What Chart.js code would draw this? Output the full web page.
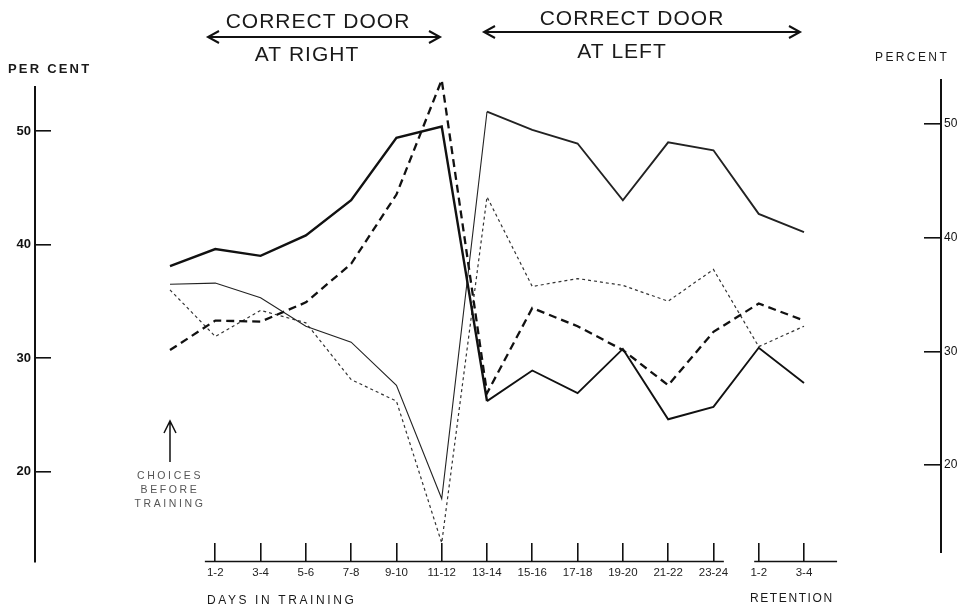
<!DOCTYPE html>
<html><head><meta charset="utf-8">
<script src="https://cdn.jsdelivr.net/npm/chart.js@4.4.0/dist/chart.umd.min.js"></script>
<style>html,body{margin:0;padding:0;background:#fff;}#wrap{width:962px;height:608px;}canvas{display:block;}</style>
</head><body><div id="wrap"><canvas id="c" width="962" height="608"></canvas></div>
<script>
// Categories: index 0 = choices before training, then days in training, then retention
const xLabels = ['', '1-2', '3-4', '5-6', '7-8', '9-10', '11-12', '13-14', '15-16', '17-18', '19-20', '21-22', '23-24', '1-2', '3-4'];
// Series (per cent)
const heavySolid = [38.1, 39.6, 39.0, 40.8, 43.9, 49.4, 50.4, 26.2, 28.9, 26.9, 30.8, 24.6, 25.7, 30.9, 27.8];
const thinSolid  = [36.5, 36.6, 35.3, 32.8, 31.4, 27.6, 17.6, 51.7, 50.1, 48.9, 43.9, 49.0, 48.3, 42.7, 41.1];
const heavyDash  = [30.7, 33.3, 33.2, 34.9, 38.3, 44.4, 54.5, 26.9, 34.4, 32.8, 30.7, 27.6, 32.3, 34.8, 33.3];
const thinDot    = [36.0, 31.9, 34.2, 33.1, 28.1, 26.2, 13.7, 44.2, 36.3, 37.0, 36.4, 35.0, 37.8, 31.0, 32.8];
const yTickValues = [20, 30, 40, 50];

const toPts = arr => arr.map((v, i) => ({x: i, y: v}));
const FONT = "'Liberation Sans', Arial, sans-serif";

function arrowH(ctx, x1, x2, y) {
  ctx.beginPath();
  ctx.moveTo(x1, y); ctx.lineTo(x2, y);
  ctx.moveTo(x1 + 11, y - 6); ctx.lineTo(x1, y); ctx.lineTo(x1 + 11, y + 6);
  ctx.moveTo(x2 - 11, y - 6); ctx.lineTo(x2, y); ctx.lineTo(x2 - 11, y + 6);
  ctx.stroke();
}
function spaced(ctx, txt, x, y, sp) {
  ctx.letterSpacing = sp + 'px';
  ctx.fillText(txt, x, y);
  ctx.letterSpacing = '0px';
}

const annot = {
  id: 'annot',
  afterDraw(chart) {
    const ctx = chart.ctx;
    const xs = chart.scales.x;
    const y2 = chart.scales.y2;
    ctx.save();
    ctx.strokeStyle = '#111';
    ctx.fillStyle = '#1a1a1a';
    // x axis line segments (training / retention)
    const yA = xs.top - 0.5;
    ctx.lineWidth = 1.6;
    ctx.beginPath();
    ctx.moveTo(xs.getPixelForValue(0.77), yA); ctx.lineTo(xs.getPixelForValue(12.23), yA);
    ctx.moveTo(xs.getPixelForValue(12.9), yA); ctx.lineTo(xs.getPixelForValue(14.73), yA);
    ctx.stroke();
    // right axis line
    ctx.lineWidth = 2;
    ctx.beginPath();
    ctx.moveTo(y2.left, y2.getPixelForValue(53.96));
    ctx.lineTo(y2.left, y2.getPixelForValue(12.27));
    ctx.stroke();
    // header arrows
    arrowH(ctx, 208, 440, 37);
    arrowH(ctx, 484, 800, 32);
    ctx.textAlign = 'center';
    ctx.textBaseline = 'middle';
    ctx.font = '21px ' + FONT;
    spaced(ctx, 'CORRECT DOOR', 318, 22, 1);
    spaced(ctx, 'CORRECT DOOR', 632, 19, 1);
    spaced(ctx, 'AT RIGHT', 307, 55, 1);
    spaced(ctx, 'AT LEFT', 622, 52, 1);
    // per cent labels
    ctx.textAlign = 'left';
    ctx.font = 'bold 13px ' + FONT;
    spaced(ctx, 'PER CENT', 8, 69, 2.2);
    ctx.font = '12px ' + FONT;
    spaced(ctx, 'PERCENT', 875, 58, 2.4);
    // choices before training
    const cx = xs.getPixelForValue(0);
    ctx.lineWidth = 1.5;
    ctx.beginPath();
    ctx.moveTo(cx, 462); ctx.lineTo(cx, 421);
    ctx.moveTo(cx - 6, 433); ctx.lineTo(cx, 421); ctx.lineTo(cx + 6, 433);
    ctx.stroke();
    ctx.fillStyle = '#555';
    ctx.textAlign = 'center';
    ctx.font = '10.5px ' + FONT;
    spaced(ctx, 'CHOICES', cx, 476, 2.6);
    spaced(ctx, 'BEFORE', cx, 490, 2.6);
    spaced(ctx, 'TRAINING', cx, 504, 2.6);
    // bottom captions
    ctx.fillStyle = '#1a1a1a';
    ctx.textAlign = 'left';
    ctx.font = '12px ' + FONT;
    spaced(ctx, 'DAYS IN TRAINING', 207, 601, 2.6);
    spaced(ctx, 'RETENTION', 750, 599, 1.6);
    ctx.restore();
  }
};

new Chart(document.getElementById('c'), {
  type: 'line',
  data: {
    datasets: [
      {data: toPts(heavySolid), borderColor: '#111', borderWidth: 2.4,
       segment: {borderWidth: c => c.p0.parsed.x >= 7 ? 1.9 : 2.4}},
      {data: toPts(thinSolid), borderColor: '#222', borderWidth: 1.2,
       segment: {borderWidth: c => c.p0.parsed.x >= 7 ? 1.9 : 1.1}},
      {data: toPts(heavyDash), borderColor: '#111', borderWidth: 2.3, borderDash: [8, 5]},
      {data: toPts(thinDot), borderColor: '#333', borderWidth: 1.2, borderDash: [3, 3]}
    ].map(d => Object.assign(d, {fill: false, pointRadius: 0, tension: 0, clip: false, yAxisID: 'y'}))
  },
  options: {
    responsive: false,
    animation: false,
    devicePixelRatio: 1,
    layout: {padding: {top: 87, left: 0, right: 0, bottom: 0}},
    plugins: {legend: {display: false}, tooltip: {enabled: false}},
    scales: {
      x: {
        type: 'linear', position: 'bottom', min: -2.981, max: 17.025,
        afterBuildTicks: s => { s.ticks = xLabels.map((l, i) => ({value: i})).slice(1); },
        afterFit: s => { s.height = 46; },
        ticks: {autoSkip: false, maxRotation: 0, padding: 23, color: '#222',
                font: {family: FONT, size: 11.5}, callback: v => xLabels[v]},
        grid: {drawOnChartArea: false, drawTicks: true, tickLength: -19, color: '#111', lineWidth: 1.6},
        border: {display: false}
      },
      y: {
        position: 'left', min: 12.026, max: 53.877,
        afterBuildTicks: s => { s.ticks = yTickValues.map(v => ({value: v})); },
        afterFit: s => { s.width = 35; },
        ticks: {padding: 20, color: '#111', font: {family: FONT, size: 13, weight: 'bold'}},
        grid: {drawOnChartArea: false, drawTicks: true, tickLength: -16, color: '#111', lineWidth: 1.6},
        border: {display: true, color: '#111', width: 2}
      },
      y2: {
        position: 'right', min: 11.48, max: 53.25,
        afterBuildTicks: s => { s.ticks = yTickValues.map(v => ({value: v})); },
        afterFit: s => { s.width = 21; },
        ticks: {padding: 20, color: '#111', font: {family: FONT, size: 12}},
        grid: {drawOnChartArea: false, drawTicks: true, tickLength: -17, color: '#111', lineWidth: 1.6},
        border: {display: false}
      }
    }
  },
  plugins: [annot]
});
</script>
</body></html>
